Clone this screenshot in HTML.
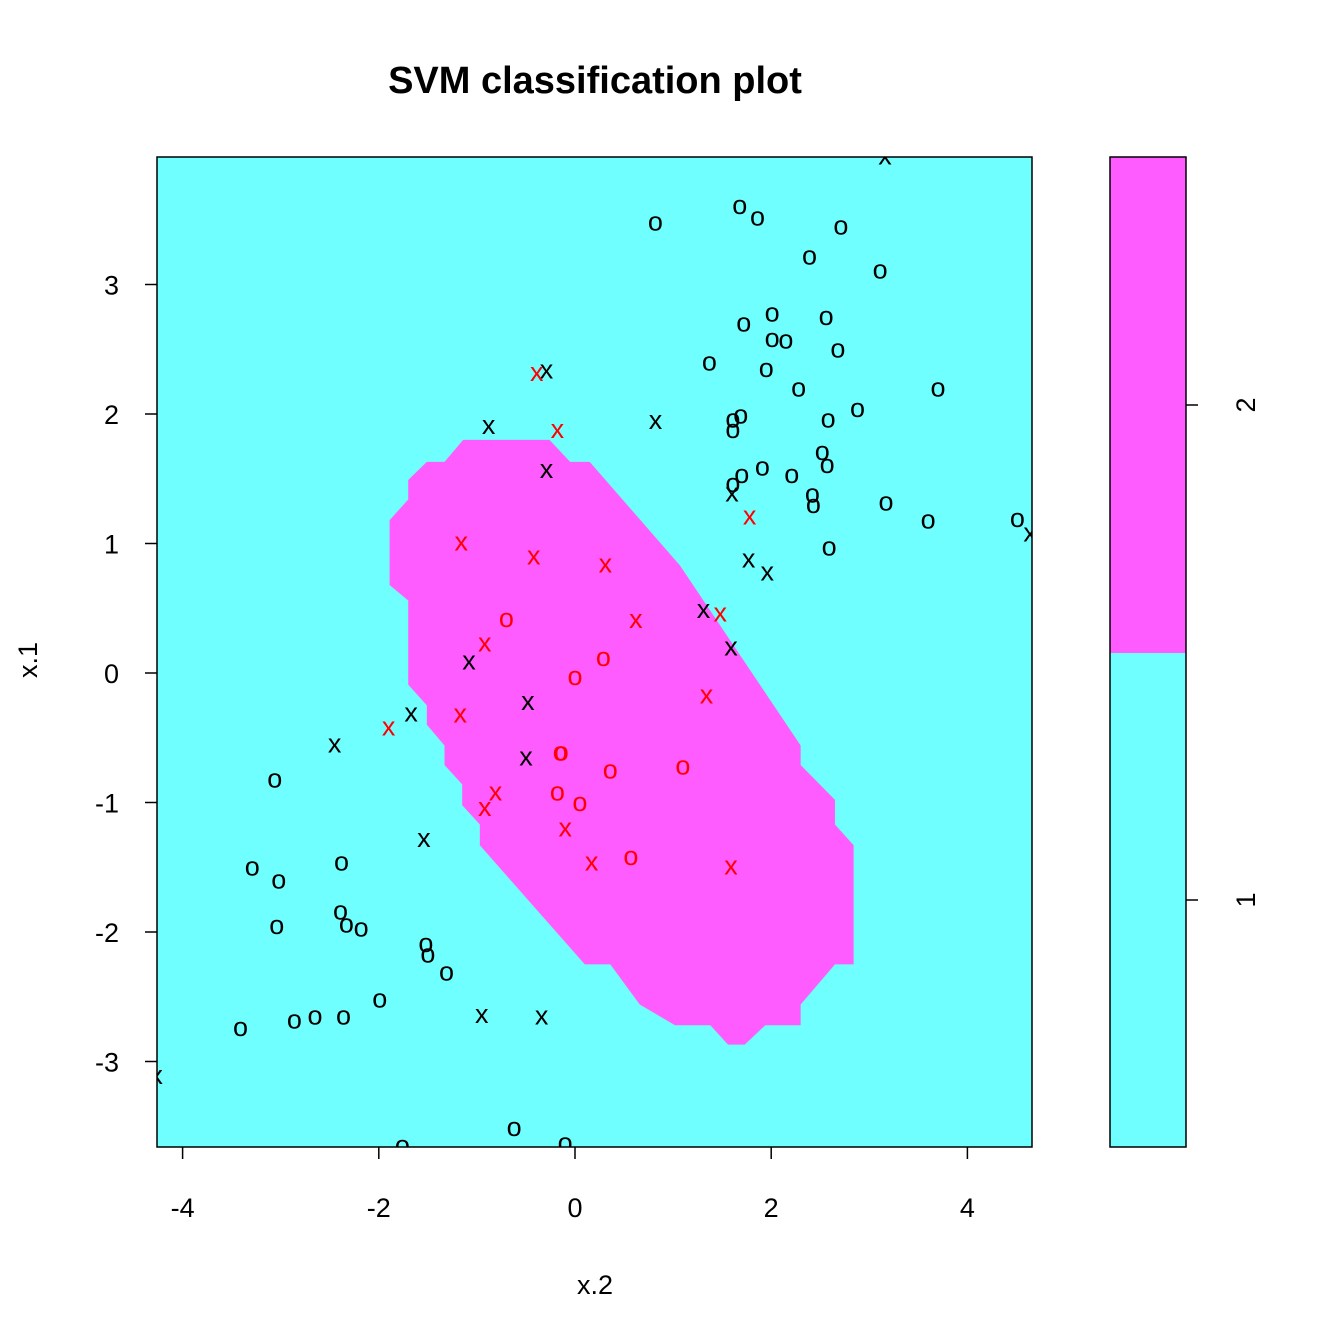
<!DOCTYPE html>
<html><head><meta charset="utf-8"><style>
body{margin:0;background:#fff}
svg{display:block;font-family:"Liberation Sans",Arial,sans-serif}
</style></head><body>
<svg id="c" width="1344" height="1344" viewBox="0 0 1344 1344">
<defs><clipPath id="pc"><rect x="157" y="157" width="875" height="990"/></clipPath></defs>
<text x="595" y="93" text-anchor="middle" font-size="38" font-weight="bold">SVM classification plot</text>
<rect x="157" y="157" width="875" height="990" fill="#70FFFF"/>
<g id="region" clip-path="url(#pc)"></g>
<g id="pts" clip-path="url(#pc)" font-size="27"></g>
<rect x="157" y="157" width="875" height="990" fill="none" stroke="#000" stroke-width="1.5"/>
<g id="axes" font-size="27"></g>
<text x="595" y="1294" text-anchor="middle" font-size="27">x.2</text>
<text transform="translate(37,660) rotate(-90)" text-anchor="middle" font-size="27">x.1</text>
<g>
<rect x="1110" y="157" width="76" height="496" fill="#FF5CFF"/>
<rect x="1110" y="653" width="76" height="494" fill="#70FFFF"/>
<rect x="1110" y="157" width="76" height="990" fill="none" stroke="#000" stroke-width="1.5"/>
<line x1="1186" y1="405" x2="1198" y2="405" stroke="#000" stroke-width="1.5"/>
<line x1="1186" y1="900" x2="1198" y2="900" stroke="#000" stroke-width="1.5"/>
<text transform="translate(1255,405) rotate(-90)" text-anchor="middle" font-size="27">2</text>
<text transform="translate(1255,900) rotate(-90)" text-anchor="middle" font-size="27">1</text>
</g>
</svg>
<script>
const xTicks=[-4,-2,0,2,4];
const yTicks=[-3,-2,-1,0,1,2,3];
const regionX=[-1.14,-0.26,-0.05,0.15,1.07,2.30,2.30,2.65,2.65,2.84,2.84,2.65,2.30,2.30,1.94,1.73,1.56,1.38,1.02,0.66,0.36,0.10,-0.97,-0.97,-1.15,-1.15,-1.33,-1.33,-1.51,-1.51,-1.70,-1.70,-1.89,-1.89,-1.70,-1.70,-1.51,-1.33];
const regionY=[1.80,1.80,1.63,1.63,0.83,-0.56,-0.71,-0.98,-1.17,-1.33,-2.25,-2.25,-2.56,-2.72,-2.72,-2.87,-2.87,-2.72,-2.72,-2.56,-2.25,-2.25,-1.33,-1.17,-1.02,-0.86,-0.71,-0.56,-0.40,-0.25,-0.09,0.56,0.68,1.18,1.34,1.49,1.63,1.63];
const blackOX=[0.82,1.68,1.86,2.71,2.39,3.11,2.01,1.72,2.56,2.01,2.15,2.68,1.37,1.95,2.28,3.70,2.88,1.69,1.61,1.61,2.58,2.52,2.57,1.70,1.91,2.21,1.61,2.42,2.43,3.17,3.60,4.51,2.59,-3.06,-3.29,-3.02,-2.38,-3.04,-2.39,-2.33,-2.18,-1.52,-1.50,-1.31,-1.99,-3.41,-2.86,-2.65,-2.36,-0.62,-1.76,-0.10];
const blackOY=[3.47,3.60,3.51,3.44,3.21,3.10,2.77,2.69,2.74,2.57,2.56,2.49,2.39,2.34,2.19,2.19,2.03,1.98,1.95,1.87,1.95,1.70,1.60,1.52,1.58,1.52,1.45,1.37,1.29,1.31,1.17,1.18,0.96,-0.83,-1.51,-1.61,-1.47,-1.96,-1.85,-1.95,-1.98,-2.10,-2.18,-2.32,-2.53,-2.75,-2.69,-2.66,-2.66,-3.52,-3.66,-3.64];
const blackXX=[3.16,-0.29,-0.88,0.82,-0.29,1.60,1.77,1.96,1.31,1.59,-1.08,-0.48,-1.67,-2.45,-0.50,-1.54,-0.95,-0.34,-4.27,4.64];
const blackXY=[3.98,2.33,1.90,1.94,1.56,1.38,0.87,0.77,0.48,0.19,0.08,-0.23,-0.32,-0.56,-0.66,-1.29,-2.65,-2.66,-3.12,1.07];
const redXX=[-0.39,-0.18,1.78,-1.16,-0.42,0.31,0.62,1.48,-0.92,1.34,-1.17,-1.90,-0.81,-0.92,-0.10,0.17,1.59];
const redXY=[2.31,1.87,1.20,1.00,0.89,0.83,0.40,0.45,0.22,-0.18,-0.33,-0.43,-0.93,-1.05,-1.21,-1.47,-1.50];
const redOX=[-0.70,0.29,0.00,-0.15,-0.14,0.36,1.10,-0.18,0.05,0.57];
const redOY=[0.41,0.11,-0.04,-0.62,-0.62,-0.76,-0.73,-0.93,-1.01,-1.43];

const NS="http://www.w3.org/2000/svg";
const sx=v=>575+v*98.1;
const sy=v=>673-v*129.5;
function mk(t,a,p){const e=document.createElementNS(NS,t);for(const k in a)e.setAttribute(k,a[k]);p.appendChild(e);return e;}

const reg=document.getElementById('region');
const poly=mk('polygon',{points:regionX.map((x,i)=>sx(x)+','+sy(regionY[i])).join(' '),fill:'#FF5CFF'},reg);



const pts=document.getElementById('pts');
function draw(xs,ys,ch,col,name){
  xs.forEach((x,i)=>{
    const t=mk('text',{x:sx(x),y:sy(ys[i])+7,'text-anchor':'middle',fill:col},pts);
    t.textContent=ch;
    
    
  });
}
draw(blackOX,blackOY,'o','#000','point-class1-o');
draw(blackXX,blackXY,'x','#000','point-class1-x');
draw(redXX,redXY,'x','#FF0000','point-class2-x');
draw(redOX,redOY,'o','#FF0000','point-class2-o');

const ax=document.getElementById('axes');
xTicks.forEach(v=>{
  const l=mk('line',{x1:sx(v),x2:sx(v),y1:1147,y2:1159,stroke:'#000','stroke-width':1.5},ax);
  
  
  const t=mk('text',{x:sx(v),y:1217,'text-anchor':'middle'},ax);
  t.textContent=v;
  
  
});
yTicks.forEach(v=>{
  const l=mk('line',{x1:145,x2:157,y1:sy(v),y2:sy(v),stroke:'#000','stroke-width':1.5},ax);
  
  
  const t=mk('text',{x:119,y:sy(v)+10,'text-anchor':'end'},ax);
  t.textContent=v;
  
  
});
</script>
</body></html>
